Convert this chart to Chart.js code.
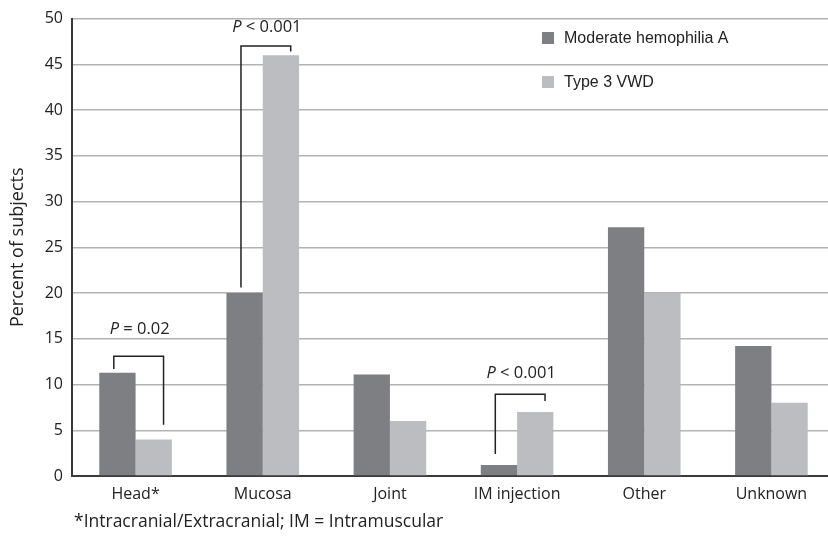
<!DOCTYPE html>
<html>
<head>
<meta charset="utf-8">
<script src="https://cdn.jsdelivr.net/npm/chart.js@4.4.0/dist/chart.umd.min.js"></script>
<style>
html,body{margin:0;padding:0;background:#fff;overflow:hidden;}
#wrap{width:836px;height:537px;position:relative;}
</style>
</head>
<body>
<div id="wrap"><canvas id="c"></canvas></div>
<script>
const categories = ["Head*", "Mucosa", "Joint", "IM injection", "Other", "Unknown"];
const seriesNames = ["Moderate hemophilia A", "Type 3 VWD"];
const hemophiliaA = [11.3, 20, 11.1, 1.2, 27.2, 14.2];
const vwd3 = [4.0, 46, 6.0, 7.0, 20, 8.0];
const yTicks = [0, 5, 10, 15, 20, 25, 30, 35, 40, 45, 50];
const yTitle = "Percent of subjects";
const footnote = "*Intracranial/Extracranial; IM = Intramuscular";
// significance brackets: category index, left/right leg bottoms, top (data units), label
const brackets = [
  {cat: 0, leftBottom: 11.7, rightBottom: 5.6, top: 13.1, label: ["P", " = 0.02"], labelY: 16.0},
  {cat: 1, leftBottom: 20.6, rightBottom: 46.4, top: 47.0, label: ["P", " < 0.001"], labelY: 49.0},
  {cat: 3, leftBottom: 2.4, rightBottom: 8.2, top: 8.95, label: ["P", " < 0.001"], labelY: 11.2}
];

const DARK = '#7e7f83';
const LIGHT = '#bcbdc1';
const FONT = '"Open Sans", sans-serif';

const overlay = {
  id: 'overlay',
  afterDatasetsDraw(chart) {
    const ctx = chart.ctx;
    const y = chart.scales.y;
    const m0 = chart.getDatasetMeta(0).data;
    const m1 = chart.getDatasetMeta(1).data;
    ctx.save();
    ctx.strokeStyle = '#222';
    ctx.lineWidth = 1.5;
    brackets.forEach(b => {
      const d = m0[b.cat], l = m1[b.cat];
      const xl = d.x - d.width * 0.1;
      const xr = l.x + l.width * 0.27;
      ctx.beginPath();
      ctx.moveTo(xl, y.getPixelForValue(b.leftBottom));
      ctx.lineTo(xl, y.getPixelForValue(b.top));
      ctx.lineTo(xr, y.getPixelForValue(b.top));
      ctx.lineTo(xr, y.getPixelForValue(b.rightBottom));
      ctx.stroke();
      const cx = (xl + xr) / 2 + 1;
      const ty = y.getPixelForValue(b.labelY);
      ctx.fillStyle = '#222';
      ctx.textBaseline = 'middle';
      ctx.font = 'italic 16.5px ' + FONT;
      const w1 = ctx.measureText(b.label[0]).width;
      ctx.font = '16.5px ' + FONT;
      const w2 = ctx.measureText(b.label[1]).width;
      const sx = cx - (w1 + w2) / 2;
      ctx.font = 'italic 16.5px ' + FONT;
      ctx.textAlign = 'left';
      ctx.fillText(b.label[0], sx, ty);
      ctx.font = '16.5px ' + FONT;
      ctx.fillText(b.label[1], sx + w1, ty);
    });
    // legend
    const lx = 542, ly = [38, 82];
    ctx.font = '16px "Liberation Sans", Arial, sans-serif';
    ctx.textAlign = 'left';
    ctx.textBaseline = 'middle';
    [DARK, LIGHT].forEach((c, i) => {
      ctx.fillStyle = c;
      ctx.fillRect(lx, ly[i] - 6, 12, 12);
      ctx.fillStyle = '#222';
      ctx.fillText(seriesNames[i], lx + 22, ly[i] + 1);
    });
    // footnote
    ctx.font = '17.5px ' + FONT;
    ctx.fillStyle = '#222';
    ctx.fillText(footnote, 74, 522);
    ctx.restore();
  }
};

new Chart(document.getElementById('c'), {
  type: 'bar',
  data: {
    labels: categories,
    datasets: [
      {label: seriesNames[0], data: hemophiliaA, backgroundColor: DARK},
      {label: seriesNames[1], data: vwd3, backgroundColor: LIGHT}
    ]
  },
  options: {
    responsive: true,
    maintainAspectRatio: false,
    animation: false,
    layout: {padding: {top: 17, right: 1, left: 0, bottom: 0}},
    plugins: {legend: {display: false}, tooltip: {enabled: false}},
    datasets: {bar: {categoryPercentage: 0.571, barPercentage: 1.0}},
    scales: {
      x: {
        grid: {display: false, drawTicks: false},
        border: {display: true, color: '#3a3a3a', width: 2},
        ticks: {color: '#222', font: {family: FONT, size: 16}, padding: 9},
        afterFit(s) { s.height = 61; }
      },
      y: {
        min: 0, max: 50,
        afterBuildTicks(s) { s.ticks = yTicks.map(v => ({value: v})); },
        grid: {color: '#b3b3b3', lineWidth: 1.5, drawTicks: false},
        border: {display: true, color: '#3a3a3a', width: 2},
        ticks: {color: '#222', font: {family: FONT, size: 16}, padding: 9},
        title: {display: true, text: yTitle, color: '#222', font: {family: FONT, size: 18}, padding: {top: 7, bottom: 4}},
        afterFit(s) { s.width = 72; }
      }
    }
  },
  plugins: [overlay]
});
</script>
</body>
</html>
